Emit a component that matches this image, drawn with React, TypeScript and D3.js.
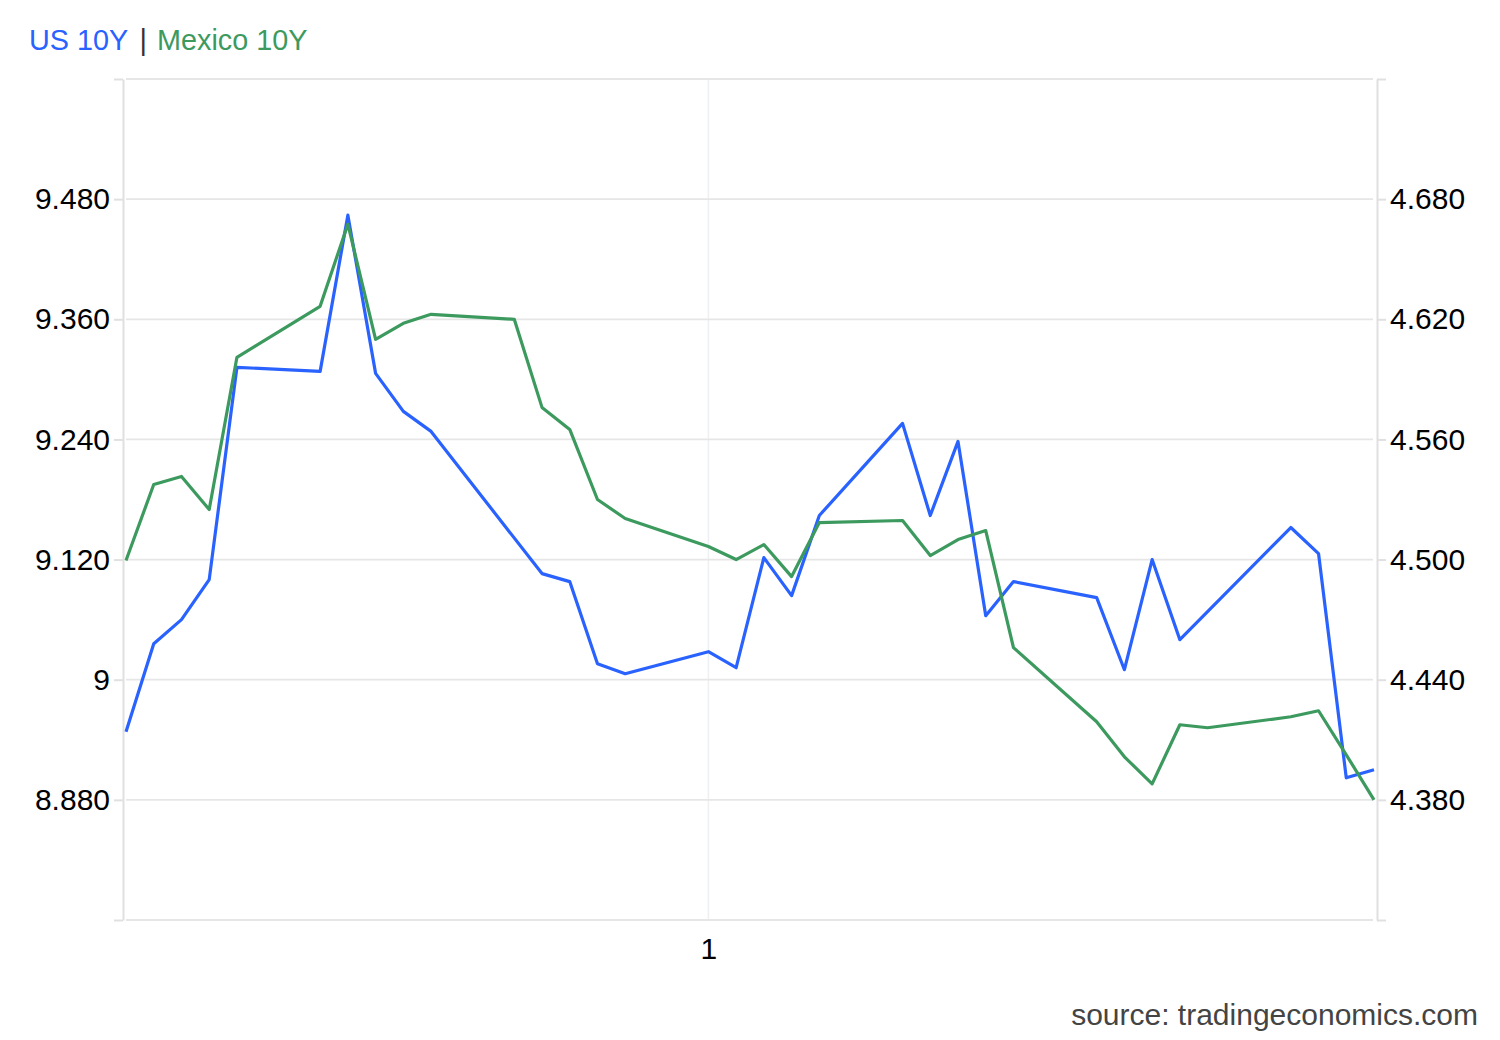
import React, { useEffect, useRef } from "react";
import * as d3 from "d3";

// trading days shown on the chart
const DATES = [
  "2025-11-10", "2025-11-11", "2025-11-12", "2025-11-13", "2025-11-14",
  "2025-11-17", "2025-11-18", "2025-11-19", "2025-11-20", "2025-11-21",
  "2025-11-24", "2025-11-25", "2025-11-26", "2025-11-27", "2025-11-28",
  "2025-12-01", "2025-12-02", "2025-12-03", "2025-12-04", "2025-12-05",
  "2025-12-08", "2025-12-09", "2025-12-10", "2025-12-11", "2025-12-12",
  "2025-12-15", "2025-12-16", "2025-12-17", "2025-12-18", "2025-12-19",
  "2025-12-22", "2025-12-23", "2025-12-24", "2025-12-25"
];

// US 10Y (right axis), null = no print that day
const US_10Y: (number | null)[] = [
  4.414, 4.458, 4.470, 4.490, 4.596,
  4.594, 4.672, 4.593, 4.574, 4.564,
  null, 4.493, 4.489, 4.448, 4.443,
  4.454, 4.446, 4.501, 4.482, 4.522,
  4.568, 4.522, 4.559, 4.472, 4.489,
  4.481, 4.445, 4.500, 4.460, null,
  4.516, 4.503, 4.391, 4.395
];

// Mexico 10Y (left axis)
const MEXICO_10Y: (number | null)[] = [
  9.119, 9.195, 9.203, 9.170, 9.322,
  9.373, 9.455, 9.340, 9.356, 9.365,
  9.360, 9.272, 9.250, 9.180, 9.161,
  9.133, 9.120, 9.135, 9.103, 9.157,
  9.159, 9.124, 9.140, 9.149, 9.032,
  8.958, 8.923, 8.896, 8.955, 8.952,
  8.963, 8.969, 8.925, 8.880
];

const LEFT_TICKS = [8.76, 8.88, 9.0, 9.12, 9.24, 9.36, 9.48, 9.6];
const RIGHT_TICKS = [4.32, 4.38, 4.44, 4.5, 4.56, 4.62, 4.68, 4.74];
const X_TICKS = ["2025-12-01"];

const W = 1500;
const H = 1040;
const FONT = "'Liberation Sans', Arial, Helvetica, sans-serif";
const BLUE = "#2962ff";
const GREEN = "#3d9a5f";
const GRID = "#e6e6e6";
const AXIS = "#e0e0e0";

const parse = d3.timeParse("%Y-%m-%d");

export default function App() {
  const leftRef = useRef<SVGGElement | null>(null);
  const rightRef = useRef<SVGGElement | null>(null);
  const bottomRef = useRef<SVGGElement | null>(null);

  const dates = DATES.map((d) => parse(d) as Date);
  const x = d3.scaleTime().domain([dates[0], dates[dates.length - 1]]).range([126, 1374]);
  const yL = d3.scaleLinear().domain([8.76, 9.6]).range([920, 79]);
  const yR = d3.scaleLinear().domain([4.32, 4.74]).range([920, 79]);

  const fmt = (v: number, ends: number[]) => {
    if (ends.includes(v)) return "";
    return Number.isInteger(v) ? String(v) : v.toFixed(3);
  };

  useEffect(() => {
    const styleAxis = (g: d3.Selection<SVGGElement, unknown, null, undefined>) => {
      g.select(".domain").attr("stroke", AXIS).attr("stroke-width", 2);
      g.selectAll(".tick line").attr("stroke", AXIS).attr("stroke-width", 2);
      g.selectAll(".tick text").attr("fill", "#000").attr("font-size", 30).attr("font-family", FONT);
    };
    const lEnds = [LEFT_TICKS[0], LEFT_TICKS[LEFT_TICKS.length - 1]];
    const rEnds = [RIGHT_TICKS[0], RIGHT_TICKS[RIGHT_TICKS.length - 1]];

    const left = d3.select(leftRef.current as SVGGElement);
    left.selectAll("*").remove();
    left.call(
      d3.axisLeft(yL).tickValues(LEFT_TICKS).tickSize(9).tickSizeOuter(0).tickPadding(4)
        .tickFormat((v) => fmt(+v, lEnds)) as any
    );
    styleAxis(left);

    const right = d3.select(rightRef.current as SVGGElement);
    right.selectAll("*").remove();
    right.call(
      d3.axisRight(yR).tickValues(RIGHT_TICKS).tickSize(9).tickSizeOuter(0).tickPadding(4)
        .tickFormat((v) => fmt(+v, rEnds)) as any
    );
    styleAxis(right);

    const bottom = d3.select(bottomRef.current as SVGGElement);
    bottom.selectAll("*").remove();
    bottom.call(
      d3.axisBottom(x).tickValues(X_TICKS.map((d) => parse(d) as Date)).tickSize(0).tickSizeOuter(0).tickPadding(18)
        .tickFormat(d3.timeFormat("%-d") as any) as any
    );
    bottom.select(".domain").remove();
    bottom.selectAll(".tick text").attr("fill", "#000").attr("font-size", 30).attr("font-family", FONT);
  }, []);

  const pts = (vals: (number | null)[]) =>
    dates.map((d, i) => ({ d, v: vals[i] })).filter((p) => p.v != null) as { d: Date; v: number }[];

  const lineL = d3.line<{ d: Date; v: number }>().x((p) => x(p.d)).y((p) => yL(p.v));
  const lineR = d3.line<{ d: Date; v: number }>().x((p) => x(p.d)).y((p) => yR(p.v));

  return (
    <svg width={W} height={H} style={{ position: "absolute", left: 0, top: 0, background: "#fff" }} fontFamily={FONT}>
      <rect width={W} height={H} fill="#fff" />
      {/* vertical grid */}
      {X_TICKS.map((t) => (
        <line key={t} x1={x(parse(t) as Date)} x2={x(parse(t) as Date)} y1={79} y2={919} stroke="#edf0f3" strokeWidth={1.5} />
      ))}
      {/* horizontal grid */}
      {LEFT_TICKS.map((t) => (
        <line key={t} x1={126} x2={1373} y1={yL(t)} y2={yL(t)} stroke={GRID} strokeWidth={1.8} />
      ))}
      <g ref={leftRef} transform="translate(123,0)" />
      <g ref={rightRef} transform="translate(1377,0)" />
      <g ref={bottomRef} transform="translate(0,920)" />

      <path d={lineR(pts(US_10Y)) ?? ""} fill="none" stroke={BLUE} strokeWidth={3.2} strokeLinejoin="round" />
      <path d={lineL(pts(MEXICO_10Y)) ?? ""} fill="none" stroke={GREEN} strokeWidth={3.2} strokeLinejoin="round" />

      <text x={29} y={50} fontSize={28.8} fill={BLUE}>US 10Y</text>
      <text x={139.5} y={50} fontSize={28.8} fill="#333">|</text>
      <text x={157} y={50} fontSize={28.8} fill={GREEN}>Mexico 10Y</text>
      <text x={1478} y={1025} fontSize={30} fill="#444" textAnchor="end">source: tradingeconomics.com</text>
    </svg>
  );
}
